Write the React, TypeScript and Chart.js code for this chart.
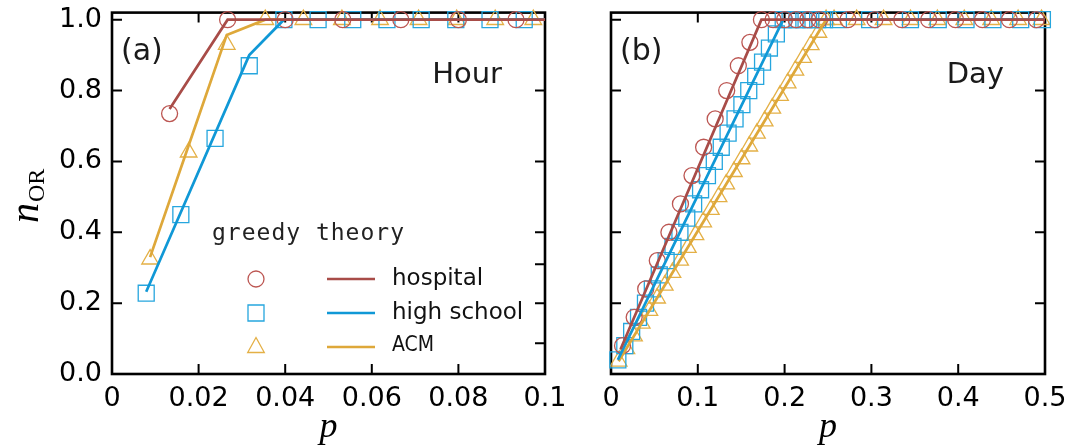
import React, { useEffect, useRef } from 'react';
import { Chart, registerables } from 'chart.js';

Chart.register(...registerables);

// ---------- Panel (a): Hour ----------
const hourHospitalP = [0.0133, 0.0267, 0.04, 0.0533, 0.0667, 0.08, 0.0933];
const hourHospitalN = [0.735, 1, 1, 1, 1, 1, 1];
const hourSchoolP = [0.0079, 0.0159, 0.0238, 0.0317, 0.0397, 0.0476, 0.0556, 0.0635, 0.0714, 0.0794, 0.0873, 0.0952];
const hourSchoolN = [0.228, 0.45, 0.665, 0.87, 1, 1, 1, 1, 1, 1, 1, 1];
const hourAcmP = [0.0088, 0.0177, 0.0265, 0.0354, 0.0442, 0.0531, 0.0619, 0.0708, 0.0796, 0.0885, 0.0973];
const hourAcmN = [0.324, 0.626, 0.93, 1, 1, 1, 1, 1, 1, 1, 1];

const hourHospitalLineP = [0.0133, 0.0267, 0.1];
const hourHospitalLineN = [0.748, 1, 1];
const hourSchoolLineP = [0.0079, 0.0317, 0.0397, 0.1];
const hourSchoolLineN = [0.232, 0.9, 1, 1];
const hourAcmLineP = [0.0088, 0.0177, 0.0265, 0.0354, 0.1];
const hourAcmLineN = [0.33, 0.645, 0.957, 1, 1];

// ---------- Panel (b): Day ----------
const dayHospitalP = [0.0133, 0.0267, 0.04, 0.0533, 0.0667, 0.08, 0.0933, 0.1067, 0.12, 0.1333, 0.1467, 0.16, 0.1733, 0.1867, 0.2, 0.2133, 0.2267, 0.24, 0.273, 0.304, 0.335, 0.366, 0.397, 0.428, 0.459, 0.49];
const dayHospitalN = [0.08, 0.16, 0.24, 0.32, 0.4, 0.48, 0.56, 0.64, 0.72, 0.8, 0.87, 0.936, 1, 1, 1, 1, 1, 1, 1, 1, 1, 1, 1, 1, 1, 1];
const daySchoolP = [0.0079, 0.0159, 0.0238, 0.0317, 0.0397, 0.0476, 0.0556, 0.0635, 0.0714, 0.0794, 0.0873, 0.0952, 0.1032, 0.1111, 0.119, 0.127, 0.1349, 0.1429, 0.1508, 0.1587, 0.1667, 0.1746, 0.1825, 0.1905, 0.1984, 0.2063, 0.2143, 0.2222, 0.2302, 0.2381, 0.246, 0.262, 0.298, 0.345, 0.377, 0.409, 0.44, 0.472, 0.497];
const daySchoolN = [0.04, 0.08, 0.12, 0.16, 0.2, 0.24, 0.28, 0.32, 0.36, 0.4, 0.44, 0.48, 0.52, 0.56, 0.6, 0.64, 0.68, 0.72, 0.76, 0.8, 0.84, 0.88, 0.92, 0.96, 1, 1, 1, 1, 1, 1, 1, 1, 1, 1, 1, 1, 1, 1, 1];
const dayAcmP = [0.0088, 0.0177, 0.0265, 0.0354, 0.0442, 0.0531, 0.0619, 0.0708, 0.0796, 0.0885, 0.0973, 0.1062, 0.115, 0.1239, 0.1327, 0.1416, 0.1504, 0.1593, 0.1681, 0.177, 0.1858, 0.1947, 0.2035, 0.2124, 0.2212, 0.2301, 0.2389, 0.2478, 0.257, 0.283, 0.314, 0.345, 0.376, 0.407, 0.438, 0.469, 0.496];
const dayAcmN = [0.036, 0.071, 0.107, 0.143, 0.179, 0.214, 0.25, 0.286, 0.321, 0.357, 0.393, 0.429, 0.464, 0.5, 0.536, 0.571, 0.607, 0.643, 0.679, 0.714, 0.75, 0.786, 0.821, 0.857, 0.893, 0.929, 0.964, 1, 1, 1, 1, 1, 1, 1, 1, 1, 1];

const dayHospitalLineP = [0.011, 0.1733, 0.5];
const dayHospitalLineN = [0.07, 1, 1];
const daySchoolLineP = [0.0079, 0.1984, 0.5];
const daySchoolLineN = [0.04, 1, 1];
const dayAcmLineP = [0.0088, 0.2478, 0.5];
const dayAcmLineN = [0.036, 1, 1];

// ---------- Axes ----------
const hourXTicks = [0, 0.02, 0.04, 0.06, 0.08, 0.1];
const hourXLabels = ['0', '0.02', '0.04', '0.06', '0.08', '0.1'];
const dayXTicks = [0, 0.1, 0.2, 0.3, 0.4, 0.5];
const dayXLabels = ['0', '0.1', '0.2', '0.3', '0.4', '0.5'];
const yTicks = [0, 0.2, 0.4, 0.6, 0.8, 1.0];
const yLabels = ['0.0', '0.2', '0.4', '0.6', '0.8', '1.0'];
const hourExtraRightTicks = [0.087, 0.31];

const seriesNames = ['hospital', 'high school', 'ACM'];
const legendHeader = 'greedy theory';

const RED = 'rgb(168,76,72)';
const RED_M = 'rgb(188,86,82)';
const BLUE = 'rgb(16,152,214)';
const BLUE_M = 'rgb(38,166,222)';
const GOLD = 'rgb(222,168,58)';
const GOLD_M = 'rgb(228,176,70)';
const INK = '#1a1a1a';

const TICK_FONT = { family: 'DejaVu Sans', size: 27 };

function toXY(ps: number[], ns: number[]) {
  return ps.map((p, i) => ({ x: p, y: ns[i] }));
}

function lineDs(ps: number[], ns: number[], color: string) {
  return {
    data: toXY(ps, ns),
    showLine: true,
    borderColor: color,
    backgroundColor: color,
    borderWidth: 2.7,
    pointRadius: 0,
    pointHoverRadius: 0,
    tension: 0,
    fill: false,
    clip: false,
  };
}

function markerDs(ps: number[], ns: number[], color: string, style: string, r: number) {
  return {
    data: toXY(ps, ns),
    showLine: false,
    pointStyle: style,
    pointRadius: r,
    pointHoverRadius: r,
    pointBorderColor: color,
    borderColor: color,
    pointBackgroundColor: 'rgba(0,0,0,0)',
    backgroundColor: 'rgba(0,0,0,0)',
    pointBorderWidth: 1.3,
    borderWidth: 1.3,
    clip: false,
  };
}

type Panel = {
  width: number;
  yAxisWidth: number;
  padRight: number;
  xMax: number;
  xTicks: number[];
  xLabels: string[];
  showYLabels: boolean;
  tag: string;
  title: string;
  titleRight: number;
  lines: [number[], number[]][];
  markers: [number[], number[]][];
  extraRight: number[];
  legend: boolean;
};

const framePlugin = {
  id: 'frameTicks',
  beforeDatasetsDraw(chart: any, _args: any, opts: any) {
    const { ctx, chartArea } = chart;
    const xs = chart.scales.x;
    const ys = chart.scales.y;
    const L = 10;
    ctx.save();
    ctx.strokeStyle = '#000';
    ctx.lineWidth = 2;
    ctx.beginPath();
    for (const v of opts.xTicks as number[]) {
      const px = xs.getPixelForValue(v);
      ctx.moveTo(px, chartArea.bottom);
      ctx.lineTo(px, chartArea.bottom - L);
      ctx.moveTo(px, chartArea.top);
      ctx.lineTo(px, chartArea.top + L);
    }
    for (const v of yTicks) {
      const py = ys.getPixelForValue(v);
      ctx.moveTo(chartArea.left, py);
      ctx.lineTo(chartArea.left + L, py);
      ctx.moveTo(chartArea.right, py);
      ctx.lineTo(chartArea.right - L, py);
    }
    for (const v of opts.extraRight as number[]) {
      const py = ys.getPixelForValue(v);
      ctx.moveTo(chartArea.right, py);
      ctx.lineTo(chartArea.right - L, py);
    }
    ctx.stroke();
    ctx.lineWidth = 2.6;
    ctx.strokeRect(chartArea.left, chartArea.top, chartArea.right - chartArea.left, chartArea.bottom - chartArea.top);
    ctx.restore();
  },
};

const textPlugin = {
  id: 'panelTexts',
  afterDraw(chart: any, _args: any, opts: any) {
    const { ctx, chartArea } = chart;
    ctx.save();
    ctx.fillStyle = INK;
    // panel tag
    ctx.font = '30px "DejaVu Sans"';
    ctx.textAlign = 'left';
    ctx.textBaseline = 'alphabetic';
    ctx.fillText(opts.tag, chartArea.left + 9, 60);
    // panel title
    ctx.font = '29px "DejaVu Sans"';
    ctx.textAlign = 'right';
    ctx.fillText(opts.title, chartArea.right - opts.titleRight, 83);
    // x axis title
    ctx.font = 'italic 36px "Liberation Serif"';
    ctx.textAlign = 'center';
    ctx.fillStyle = '#000';
    ctx.fillText('p', (chartArea.left + chartArea.right) / 2, 437);
    if (opts.legend) {
      // y axis title
      ctx.save();
      ctx.translate(38, 223);
      ctx.rotate(-Math.PI / 2);
      ctx.textAlign = 'left';
      ctx.font = 'italic 40px "Liberation Serif"';
      ctx.fillText('n', 0, 0);
      ctx.font = '24px "Liberation Serif"';
      ctx.fillText('OR', 21, 6);
      ctx.restore();

      // legend
      ctx.fillStyle = '#222';
      ctx.textAlign = 'left';
      ctx.textBaseline = 'middle';
      ctx.font = '23px "DejaVu Sans Mono"';
      try { (ctx as any).letterSpacing = '1px'; } catch (e) {}
      ctx.fillText(legendHeader, 212, 234);
      try { (ctx as any).letterSpacing = '0px'; } catch (e) {}
      const rows = [279, 313, 347];
      const lineCols = [RED, BLUE, GOLD];
      const markCols = [RED_M, BLUE_M, GOLD_M];
      const mx = 256;
      rows.forEach((ry, i) => {
        ctx.strokeStyle = markCols[i];
        ctx.lineWidth = 1.3;
        ctx.beginPath();
        if (i === 0) {
          ctx.arc(mx, ry, 8, 0, Math.PI * 2);
        } else if (i === 1) {
          ctx.rect(mx - 8, ry - 8, 16, 16);
        } else {
          ctx.moveTo(mx, ry - 9.5);
          ctx.lineTo(mx + 8.3, ry + 5.5);
          ctx.lineTo(mx - 8.3, ry + 5.5);
          ctx.closePath();
        }
        ctx.stroke();
        ctx.strokeStyle = lineCols[i];
        ctx.lineWidth = 2.7;
        ctx.beginPath();
        ctx.moveTo(327, ry);
        ctx.lineTo(375, ry);
        ctx.stroke();
        ctx.fillStyle = '#111';
        if (i === 2) {
          ctx.font = '21px "Liberation Sans Narrow", "DejaVu Sans Condensed", "Liberation Sans"';
        } else {
          ctx.font = '23px "DejaVu Sans"';
        }
        ctx.fillText(seriesNames[i], 392, ry + (i === 2 ? -1 : 0));
      });
    }
    ctx.restore();
  },
};

function zeroPad(s: any) {
  s.paddingTop = 0;
  s.paddingBottom = 0;
  s.paddingLeft = 0;
  s.paddingRight = 0;
}

function makeConfig(panel: Panel): any {
  const colsL = [RED, BLUE, GOLD];
  const colsM = [RED_M, BLUE_M, GOLD_M];
  const styles = ['circle', 'rect', 'triangle'];
  const radii = [8, 11.3, 9.6];
  const datasets: any[] = [];
  panel.lines.forEach(([ps, ns], i) => datasets.push(lineDs(ps, ns, colsL[i])));
  panel.markers.forEach(([ps, ns], i) => datasets.push(markerDs(ps, ns, colsM[i], styles[i], radii[i])));
  return {
    type: 'scatter',
    data: { datasets },
    plugins: [framePlugin, textPlugin],
    options: {
      animation: false,
      responsive: false,
      maintainAspectRatio: false,
      events: [],
      layout: { padding: { top: 12, right: panel.padRight, left: 0, bottom: 0 } },
      plugins: {
        legend: { display: false },
        tooltip: { enabled: false },
        title: { display: false },
        frameTicks: { xTicks: panel.xTicks, extraRight: panel.extraRight },
        panelTexts: { tag: panel.tag, title: panel.title, titleRight: panel.titleRight, legend: panel.legend },
      },
      scales: {
        x: {
          type: 'linear',
          position: 'bottom',
          min: 0,
          max: panel.xMax,
          afterBuildTicks: (s: any) => {
            s.ticks = panel.xTicks.map((v) => ({ value: v }));
          },
          afterFit: (s: any) => {
            s.height = 73;
            zeroPad(s);
          },
          ticks: {
            autoSkip: false,
            maxRotation: 0,
            minRotation: 0,
            padding: 9,
            color: '#000',
            font: TICK_FONT,
            callback: (_v: any, i: number) => panel.xLabels[i],
          },
          grid: { display: false, drawTicks: false, tickLength: 0 },
          border: { display: false },
        },
        y: {
          type: 'linear',
          position: 'left',
          min: 0,
          max: 1.02,
          afterBuildTicks: (s: any) => {
            s.ticks = yTicks.map((v) => ({ value: v }));
          },
          afterFit: (s: any) => {
            s.width = panel.yAxisWidth;
            zeroPad(s);
          },
          ticks: {
            display: panel.showYLabels,
            autoSkip: false,
            padding: 10,
            color: '#000',
            font: TICK_FONT,
            callback: (_v: any, i: number) => yLabels[i],
          },
          grid: { display: false, drawTicks: false, tickLength: 0 },
          border: { display: false },
        },
      },
    },
  };
}

const panelA: Panel = {
  width: 580,
  yAxisWidth: 112,
  padRight: 35,
  xMax: 0.1,
  xTicks: hourXTicks,
  xLabels: hourXLabels,
  showYLabels: true,
  tag: '(a)',
  title: 'Hour',
  titleRight: 43,
  lines: [
    [hourHospitalLineP, hourHospitalLineN],
    [hourSchoolLineP, hourSchoolLineN],
    [hourAcmLineP, hourAcmLineN],
  ],
  markers: [
    [hourHospitalP, hourHospitalN],
    [hourSchoolP, hourSchoolN],
    [hourAcmP, hourAcmN],
  ],
  extraRight: hourExtraRightTicks,
  legend: true,
};

const panelB: Panel = {
  width: 508,
  yAxisWidth: 31,
  padRight: 43,
  xMax: 0.5,
  xTicks: dayXTicks,
  xLabels: dayXLabels,
  showYLabels: false,
  tag: '(b)',
  title: 'Day',
  titleRight: 41,
  lines: [
    [dayHospitalLineP, dayHospitalLineN],
    [daySchoolLineP, daySchoolLineN],
    [dayAcmLineP, dayAcmLineN],
  ],
  markers: [
    [dayHospitalP, dayHospitalN],
    [daySchoolP, daySchoolN],
    [dayAcmP, dayAcmN],
  ],
  extraRight: [],
  legend: false,
};

function PanelChart({ panel, left }: { panel: Panel; left: number }) {
  const ref = useRef<HTMLCanvasElement | null>(null);
  useEffect(() => {
    if (!ref.current) return;
    const chart = new Chart(ref.current, makeConfig(panel));
    return () => chart.destroy();
  }, [panel]);
  return (
    <canvas
      ref={ref}
      width={panel.width}
      height={447}
      style={{ position: 'absolute', left, top: 0, width: panel.width, height: 447 }}
    />
  );
}

export default function App() {
  return (
    <div style={{ position: 'absolute', left: 0, top: 0, width: 1088, height: 447, background: '#fff', overflow: 'hidden' }}>
      <PanelChart panel={panelA} left={0} />
      <PanelChart panel={panelB} left={580} />
    </div>
  );
}
